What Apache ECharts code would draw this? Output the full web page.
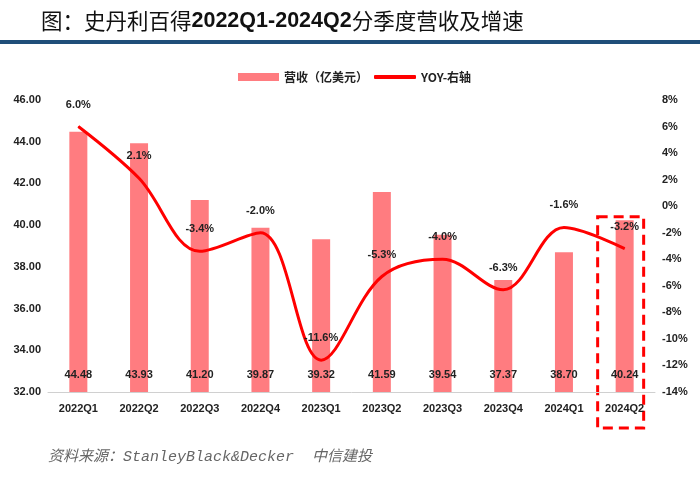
<!DOCTYPE html>
<html><head><meta charset="utf-8">
<script src="https://cdn.jsdelivr.net/npm/echarts@6/dist/echarts.min.js"></script>
<style>html,body{margin:0;padding:0;background:#fff}#c{width:700px;height:479px}</style>
</head><body><div id="c"></div>
<script>
const categories = ['2022Q1','2022Q2','2022Q3','2022Q4','2023Q1','2023Q2','2023Q3','2023Q4','2024Q1','2024Q2'];
const revenue = [44.48,43.93,41.20,39.87,39.32,41.59,39.54,37.37,38.70,40.24];
const yoy = [6.0,2.1,-3.4,-2.0,-11.6,-5.3,-4.0,-6.3,-1.6,-3.2];
const highlightCategory = '2024Q2';

const chart = echarts.init(document.getElementById('c'));
const F = 'Liberation Sans';
const legendText = {fontFamily:'Noto Sans CJK SC',fontSize:12,fontWeight:'bold',color:'#222'};
chart.setOption({
  animation:false,
  backgroundColor:'#fff',
  title:{
    left:36, top:5,
    text:'{c|图：史丹利百得}{d|2022Q1-2024Q2}{c|分季度营收及增速}',
    textStyle:{rich:{
      c:{fontFamily:'Noto Sans CJK SC',fontSize:21.5,fontWeight:'normal',color:'#111'},
      d:{fontFamily:F,fontSize:21.5,fontWeight:'bold',color:'#111'}
    }}
  },
  legend:[
    {top:66, left:233, itemWidth:41, itemHeight:8, textStyle:legendText,
     data:[{name:'营收（亿美元）',icon:'rect'}]},
    {top:66, left:369, itemWidth:42, itemHeight:4, textStyle:legendText,
     data:[{name:'YOY-右轴',icon:'roundRect',itemStyle:{color:'#ff0000'}}]}
  ],
  grid:{left:48,right:45,top:100,bottom:87},
  xAxis:{
    type:'category', data:categories,
    axisLine:{onZero:false,lineStyle:{color:'#d0d0d0',width:1}},
    axisTick:{show:false},
    axisLabel:{fontFamily:F,fontSize:11,fontWeight:'bold',color:'#222',margin:11}
  },
  yAxis:[
    {type:'value',min:32,max:46,interval:2,splitLine:{show:false},axisLine:{show:false},axisTick:{show:false},
     axisLabel:{fontFamily:F,fontSize:11,fontWeight:'bold',color:'#222',margin:7,formatter:v=>v.toFixed(2)}},
    {type:'value',min:-14,max:8,interval:2,splitLine:{show:false},axisLine:{show:false},axisTick:{show:false},
     axisLabel:{fontFamily:F,fontSize:11,fontWeight:'bold',color:'#222',margin:7,formatter:v=>v+'%'}}
  ],
  series:[
    {name:'营收（亿美元）',type:'bar',data:revenue,barWidth:18,
     itemStyle:{color:'#ff7c80'},
     label:{show:true,position:'insideBottom',distance:12,fontFamily:F,fontSize:11,fontWeight:'bold',color:'#222',formatter:p=>p.value.toFixed(2)}},
    {name:'YOY-右轴',type:'line',yAxisIndex:1,data:yoy,smooth:0.35,
     symbol:'circle',symbolSize:1,
     lineStyle:{color:'#ff0000',width:3},itemStyle:{color:'#ff0000'},
     label:{show:true,position:'top',distance:16,fontFamily:F,fontSize:11,fontWeight:'bold',color:'#222',formatter:p=>p.value.toFixed(1)+'%'}}
  ]
});

const cx = chart.convertToPixel({xAxisIndex:0}, highlightCategory);
const topY = chart.convertToPixel({yAxisIndex:1}, -0.8);
const botY = 479 - 87 + 36;
chart.setOption({
  graphic:[
    {type:'rect',left:0,top:40,shape:{x:0,y:0,width:700,height:4},style:{fill:'#1f4e79'}},
    {type:'rect',shape:{x:cx-27,y:topY,width:46,height:botY-topY},
     style:{fill:'none',stroke:'#ff0000',lineWidth:3,lineDash:[10,6]}},
    {type:'text',left:48,top:450,style:{
      text:'资料来源：StanleyBlack&Decker  中信建投',
      fontFamily:'Liberation Mono, Noto Sans CJK SC',fontStyle:'italic',fontSize:15,fill:'#666'}}
  ]
});
</script></body></html>
